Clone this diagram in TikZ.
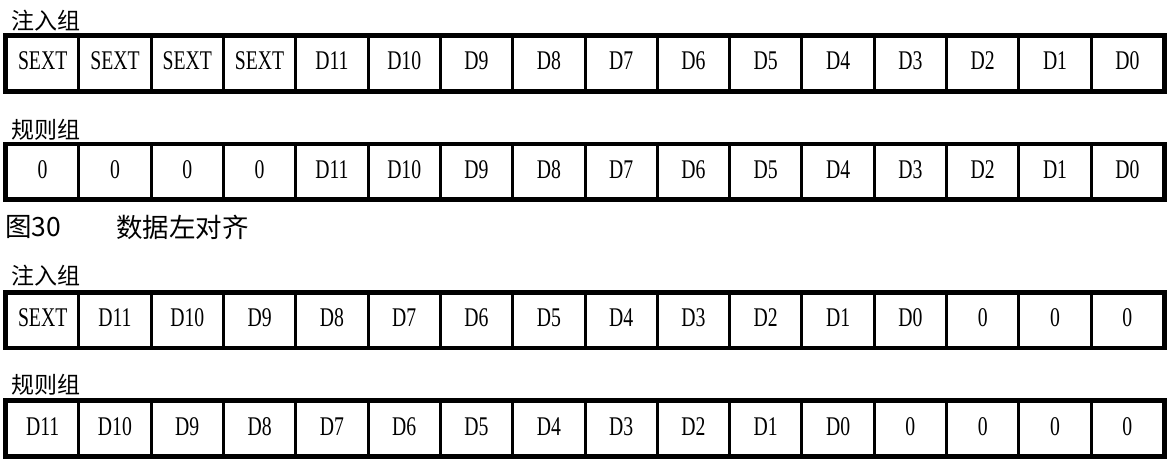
\documentclass[tikz,border=0pt]{standalone}
\usepackage{fontspec}
\newfontfamily\cjk{Noto Sans CJK SC}
\newfontfamily\cellfont[FakeStretch=0.73]{Liberation Serif}
\begin{document}
\begin{tikzpicture}[x=1pt,y=-1pt,
  cell/.style={draw=black,line width=3pt,minimum width=72.3125pt,minimum height=54pt,
    inner sep=0pt,text height=18pt,text depth=5pt,font=\cellfont\fontsize{27}{27}\selectfont},
  grouplabel/.style={anchor=west,inner sep=0pt,font=\cjk\fontsize{23}{23}\selectfont},
  caplabel/.style={anchor=west,inner sep=0pt,font=\cjk\fontsize{26.5}{26.5}\selectfont},
  frame/.style={draw=black,line width=3.8pt}]
\useasboundingbox (0,0) rectangle (1169,462);
\def\cw{72.3125}
% row contents
\def\rowA{{"SEXT","SEXT","SEXT","SEXT","D11","D10","D9","D8","D7","D6","D5","D4","D3","D2","D1","D0"}}
\def\rowB{{"0","0","0","0","D11","D10","D9","D8","D7","D6","D5","D4","D3","D2","D1","D0"}}
\def\rowC{{"SEXT","D11","D10","D9","D8","D7","D6","D5","D4","D3","D2","D1","D0","0","0","0"}}
\def\rowD{{"D11","D10","D9","D8","D7","D6","D5","D4","D3","D2","D1","D0","0","0","0","0"}}
% labels
\node[grouplabel] (lab1) at (11,21) {注入组};
\node[grouplabel] (lab2) at (11,130) {规则组};
\node[caplabel] (capnum) at (5,227) {图30};
\node[caplabel] (captext) at (116,227) {数据左对齐};
\node[grouplabel] (lab3) at (11,276) {注入组};
\node[grouplabel] (lab4) at (11,385) {规则组};
% tables
\foreach \t/\yc/\arr in {A/63.25/\rowA, B/172/\rowB, C/320/\rowC, D/428.5/\rowD}{
  \foreach \i in {0,...,15}{
    \pgfmathsetmacro{\xc}{6.5+\cw*(\i+0.5)}
    \pgfmathsetmacro{\txt}{\arr[\i]}
    \node[cell] (\t\i) at (\xc,\yc) {\txt};
  }
  \draw[frame] (\t0.north west) rectangle (\t15.south east);
}
\end{tikzpicture}
\end{document}
